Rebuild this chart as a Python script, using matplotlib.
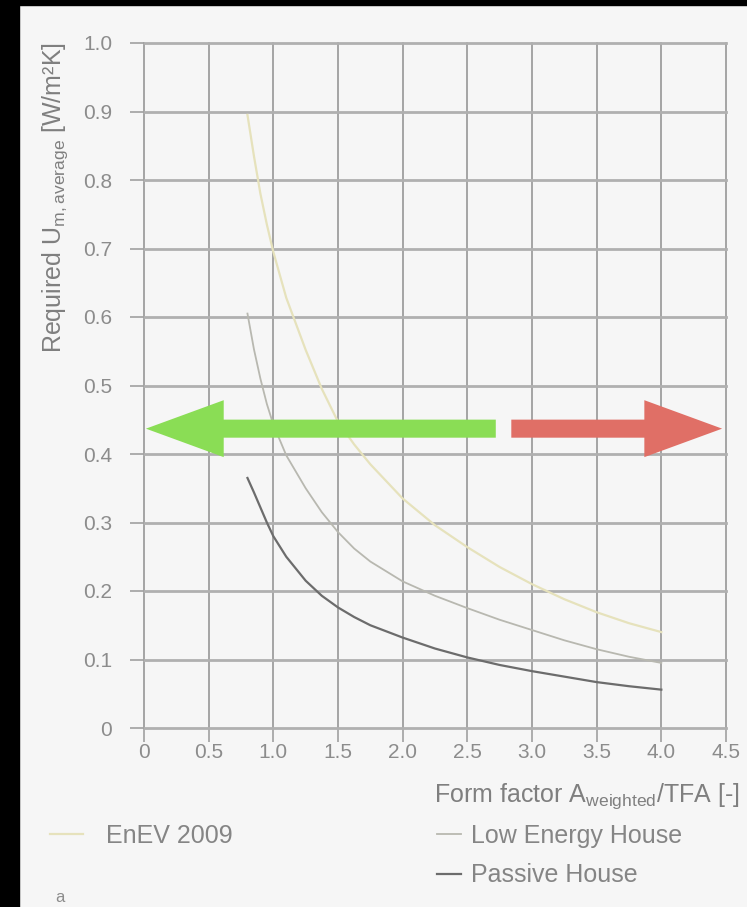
import matplotlib
matplotlib.use("Agg")
import matplotlib.pyplot as plt
from matplotlib.patches import Rectangle

plt.rcParams['font.family'] = ['Liberation Sans', 'DejaVu Sans']

# form factor values
form_factor = [0.8, 0.85, 0.9, 0.95, 1.0, 1.1, 1.25, 1.375, 1.5, 1.625, 1.75,
               2.0, 2.25, 2.5, 2.75, 3.0, 3.25, 3.5, 3.75, 4.0]
u_enev = [0.895, 0.835, 0.78, 0.735, 0.695, 0.628, 0.552, 0.495, 0.447, 0.414, 0.385,
          0.335, 0.296, 0.264, 0.235, 0.21, 0.188, 0.169, 0.153, 0.14]
u_low_energy = [0.605, 0.553, 0.51, 0.473, 0.443, 0.398, 0.35, 0.315, 0.286, 0.262, 0.243,
                0.214, 0.193, 0.175, 0.158, 0.143, 0.128, 0.115, 0.104, 0.095]
u_passive = [0.365, 0.344, 0.322, 0.3, 0.28, 0.25, 0.215, 0.193, 0.176, 0.162, 0.15,
             0.132, 0.116, 0.103, 0.092, 0.083, 0.075, 0.067, 0.061, 0.056]

x_ticks = [0, 0.5, 1.0, 1.5, 2.0, 2.5, 3.0, 3.5, 4.0, 4.5]
x_tick_labels = ['0', '0.5', '1.0', '1.5', '2.0', '2.5', '3.0', '3.5', '4.0', '4.5']
y_ticks = [0, 0.1, 0.2, 0.3, 0.4, 0.5, 0.6, 0.7, 0.8, 0.9, 1.0]
y_tick_labels = ['0', '0.1', '0.2', '0.3', '0.4', '0.5', '0.6', '0.7', '0.8', '0.9', '1.0']

# overlay arrows (x from, x to) at one U level
arrow_level = 0.437
green_arrow = (2.72, 0.015)
red_arrow = (2.84, 4.47)

W, H = 747, 907
fig = plt.figure(figsize=(W / 100, H / 100), dpi=100)
fig.patch.set_facecolor('#f6f6f6')

# black scan border
fig.add_artist(Rectangle((0, 0), 19 / W, 1, transform=fig.transFigure, color='black', zorder=0))
fig.add_artist(Rectangle((0, 1 - 5 / H), 1, 5 / H, transform=fig.transFigure, color='black', zorder=0))

ax = fig.add_axes([144 / W, 1 - 728 / H, (726 - 144) / W, (728 - 43) / H])
ax.set_facecolor('#f6f6f6')
ax.set_xlim(0, 4.5)
ax.set_ylim(0, 1.0)
for s in ax.spines.values():
    s.set_visible(False)

ax.set_xticks(x_ticks)
ax.set_xticklabels(x_tick_labels)
ax.set_yticks(y_ticks)
ax.set_yticklabels(y_tick_labels)
ax.tick_params(axis='both', direction='out', length=10, width=1.2, color='#a0a0a0',
               labelsize=15, labelcolor='#8c8c8c')
ax.tick_params(axis='x', pad=1)
ax.tick_params(axis='y', pad=13)
ax.xaxis.grid(True, color='#979797', lw=1.2, clip_on=False)
ax.yaxis.grid(True, color='#b0b0b0', lw=2.0, clip_on=False)
ax.set_axisbelow(True)

l1, = ax.plot(form_factor, u_enev, color='#e6e2bc', lw=1.6, label='EnEV 2009')
l2, = ax.plot(form_factor, u_low_energy, color='#b8b8b0', lw=1.3, label='Low Energy House')
l3, = ax.plot(form_factor, u_passive, color='#6c6c6c', lw=1.6, label='Passive House')

style = 'simple,head_length=5.6,head_width=4.1,tail_width=1.3'
ax.annotate('', xy=(green_arrow[1], arrow_level), xytext=(green_arrow[0], arrow_level),
            arrowprops=dict(arrowstyle=style, mutation_scale=10, color='#8add55',
                            lw=0, shrinkA=0, shrinkB=0), annotation_clip=False)
ax.annotate('', xy=(red_arrow[1], arrow_level), xytext=(red_arrow[0], arrow_level),
            arrowprops=dict(arrowstyle=style, mutation_scale=10, color='#e06f66',
                            lw=0, shrinkA=0, shrinkB=0), annotation_clip=False)

fig.text(55 / W, 1 - 42 / H, 'Required U$_{\\mathregular{m,average}}$ [W/m²K]',
         rotation=90, ha='center', va='top', fontsize=18, color='#7f7f7f')
fig.text(740 / W, 1 - 796 / H, 'Form factor A$_{\\mathregular{weighted}}$/TFA [-]',
         ha='right', va='center', fontsize=18, color='#7f7f7f')

leg_kw = dict(frameon=False, fontsize=18, labelcolor='#858585', borderpad=0,
              borderaxespad=0, labelspacing=0.62)
fig.legend(handles=[l1], loc='upper left', bbox_to_anchor=(50 / W, 1 - 824 / H),
           handlelength=1.3, handletextpad=0.95, **leg_kw)
fig.legend(handles=[l2, l3], loc='upper left', bbox_to_anchor=(437 / W, 1 - 824 / H),
           handlelength=0.95, handletextpad=0.4, **leg_kw)

fig.text(60 / W, 1 - 897 / H, 'a', ha='center', va='center', fontsize=12, color='#8c8c8c')

fig.savefig('out.png', dpi=100, facecolor=fig.get_facecolor())
